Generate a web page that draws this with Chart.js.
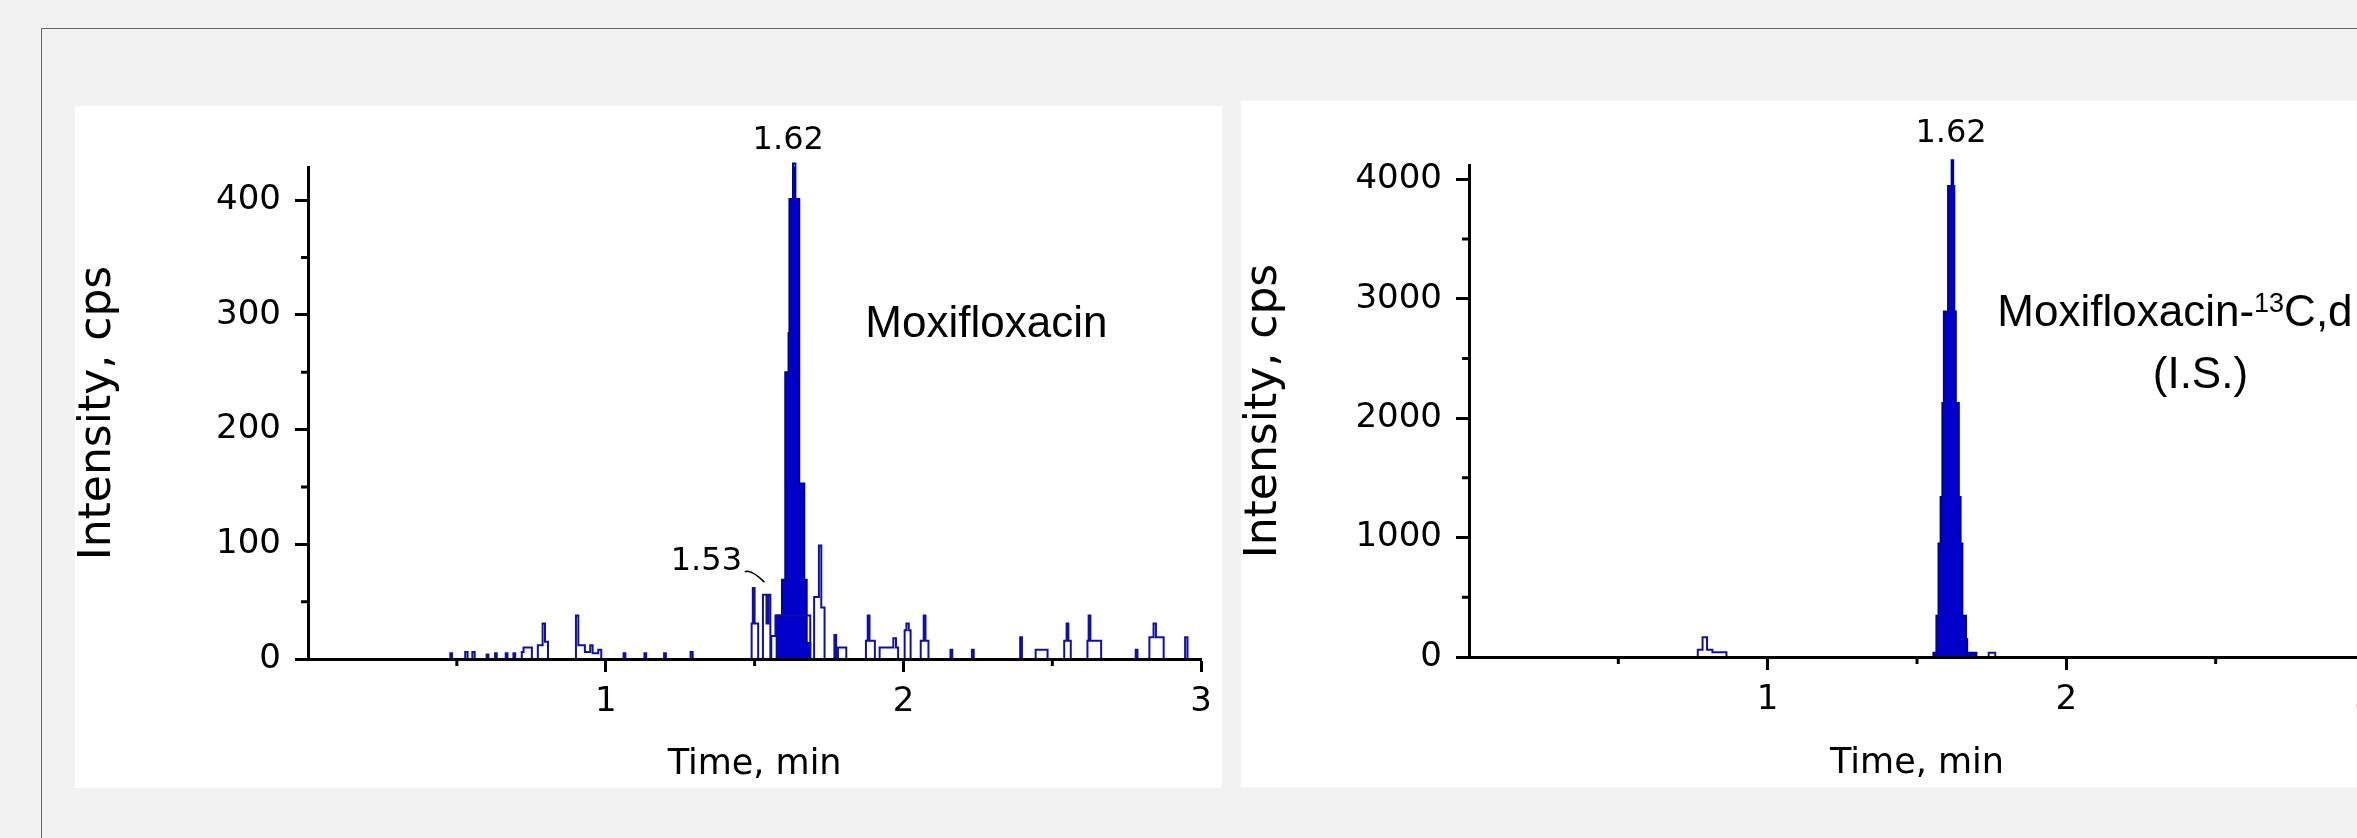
<!DOCTYPE html>
<html>
<head>
<meta charset="utf-8">
<script src="https://cdn.jsdelivr.net/npm/chart.js@4.4.1/dist/chart.umd.min.js"></script>
<style>
  html, body { margin: 0; padding: 0; width: 2357px; height: 838px; overflow: hidden; background: #f2f2f2; }
  #frame { position: absolute; left: 41px; top: 28px; width: 2400px; height: 900px;
           border-top: 1px solid #666; border-left: 1px solid #666; }
  .panel { position: absolute; background: #fff; }
  #p1 { left: 75px; top: 106px; width: 1147px; height: 682px; }
  #p2 { left: 1241px; top: 101px; width: 1147px; height: 686px; }
  canvas { display: block; }
</style>
</head>
<body>
<div id="frame"></div>
<div class="panel" id="p1"><canvas id="c1" width="1147" height="682"></canvas></div>
<div class="panel" id="p2"><canvas id="c2" width="1147" height="686"></canvas></div>

<script>
// axes
const xTicks = [1, 2, 3];
const xMinor = [0.5, 1.5, 2.5];
const moxiYTicks = [0, 100, 200, 300, 400];
const moxiYMinor = [50, 150, 250, 350];
const isYTicks = [0, 1000, 2000, 3000, 4000];
const isYMinor = [500, 1500, 2500, 3500];

// Moxifloxacin trace (time in min, intensity in cps), step after each point
const moxiNoiseT = [0, 0.478, 0.484, 0.528, 0.536, 0.552, 0.560, 0.600, 0.606, 0.628, 0.634, 0.664, 0.670,
  0.690, 0.696, 0.718, 0.724, 0.745, 0.752, 0.772, 0.788, 0.796, 0.806, 0.900, 0.908, 0.930, 0.948, 0.956,
  0.975, 0.985, 1.060, 1.066, 1.130, 1.136, 1.196, 1.202, 1.285, 1.292, 1.490, 1.494, 1.500, 1.512, 1.528,
  1.540, 1.546, 1.553, 1.556, 1.570, 1.687, 1.700, 1.716, 1.724, 1.735, 1.768, 1.774, 1.780, 1.808, 1.874,
  1.880, 1.886, 1.904, 1.920, 1.966, 1.975, 1.982, 2.004, 2.010, 2.018, 2.024, 2.058, 2.068, 2.074, 2.084,
  2.158, 2.164, 2.230, 2.236, 2.392, 2.398, 2.444, 2.484, 2.540, 2.548, 2.554, 2.562, 2.618, 2.622, 2.628,
  2.664, 2.780, 2.786, 2.826, 2.840, 2.848, 2.874, 2.946, 2.954, 3.0];
const moxiNoiseI = [0, 5, 0, 6, 0, 6, 0, 4, 0, 5, 0, 5, 0,
  5, 0, 6, 10, 10, 0, 12, 31, 15, 0, 38, 12, 6, 12, 5,
  8, 0, 5, 0, 5, 0, 5, 0, 6, 0, 31, 62, 31, 0, 56,
  31, 56, 0, 20, 38, 0, 54, 99, 45, 0, 21, 0, 10, 0, 16,
  38, 16, 0, 10, 18, 10, 0, 25, 31, 25, 0, 16, 38, 16, 0,
  8, 0, 8, 0, 19, 0, 8, 0, 16, 31, 16, 0, 16, 38, 16,
  0, 8, 0, 19, 31, 19, 0, 19, 0, 0];
const moxiPeakT = [1.570, 1.592, 1.603, 1.614, 1.617, 1.629, 1.637, 1.650, 1.667, 1.675, 1.687];
const moxiPeakI = [38, 69, 250, 284, 401, 432, 401, 153, 69, 14, 0];

// Moxifloxacin-13C,d4 (I.S.) trace
const isNoiseT = [0, 0.766, 0.782, 0.797, 0.815, 0.862, 1.740, 1.762, 3.0];
const isNoiseI = [0, 60, 166, 60, 40, 0, 36, 0, 0];
const isPeakT = [1.545, 1.555, 1.565, 1.572, 1.579, 1.585, 1.590, 1.604, 1.616, 1.621, 1.625, 1.630,
  1.640, 1.646, 1.652, 1.664, 1.668, 1.699];
const isPeakI = [0, 36, 345, 950, 1339, 2126, 2894, 3944, 4160, 3944, 2894, 2126,
  1339, 950, 345, 150, 36, 0];

const TRACE = '#1010a8';
const PEAK_FILL = '#0000c8';
const PEAK_EDGE = '#00009a';

const pts = (ts, vs) => ts.map((t, i) => ({ x: t, y: vs[i] }));

// minor ticks, peak labels and compound names
const marks = {
  id: 'marks',
  afterDraw(chart, args, o) {
    const { ctx, chartArea } = chart;
    const x = chart.scales.x, y = chart.scales.y;
    const px = v => x.getPixelForValue(v);
    const py = v => y.getPixelForValue(v);
    ctx.save();
    ctx.strokeStyle = '#000';
    ctx.lineWidth = 3;
    ctx.beginPath();
    o.xMinor.forEach(v => { ctx.moveTo(px(v), chartArea.bottom); ctx.lineTo(px(v), chartArea.bottom + 7); });
    o.yMinor.forEach(v => { ctx.moveTo(chartArea.left - 7, py(v)); ctx.lineTo(chartArea.left, py(v)); });
    ctx.stroke();

    ctx.fillStyle = '#000';
    ctx.font = '32px "DejaVu Sans"';
    ctx.textAlign = 'center';
    ctx.textBaseline = 'middle';
    o.peaks.forEach(p => ctx.fillText(p.text, px(p.t), py(p.i)));
    (o.callouts || []).forEach(c => {
      ctx.fillText(c.text, px(c.t), py(c.i));
      ctx.lineWidth = 1.5;
      ctx.beginPath();
      ctx.moveTo(px(c.lead[0][0]), py(c.lead[0][1]));
      ctx.quadraticCurveTo(px(c.lead[0][0]) + 6, py(c.lead[0][1]) - 3, px(c.lead[1][0]), py(c.lead[1][1]));
      ctx.stroke();
    });

    ctx.textAlign = 'left';
    ctx.textBaseline = 'alphabetic';
    o.names.forEach(n => {
      const widths = n.parts.map(p => {
        ctx.font = (p.sup ? 27 : 44) + 'px "Liberation Sans"';
        return ctx.measureText(p.text).width;
      });
      const total = widths.reduce((a, b) => a + b, 0);
      let cx = n.align === 'center' ? px(n.t) - total / 2 : px(n.t);
      const base = py(n.i);
      n.parts.forEach((p, k) => {
        ctx.font = (p.sup ? 27 : 44) + 'px "Liberation Sans"';
        ctx.fillText(p.text, cx, p.sup ? base - 14 : base);
        cx += widths[k];
      });
    });
    ctx.restore();
  }
};

function makeChart(id, o) {
  return new Chart(document.getElementById(id), {
    type: 'line',
    data: {
      datasets: [
        { data: pts(o.noiseT, o.noiseI), stepped: 'before', borderColor: TRACE, borderWidth: 2,
          pointRadius: 0, fill: false, clip: false },
        { data: pts(o.peakT, o.peakI), stepped: 'before', borderColor: PEAK_EDGE, backgroundColor: PEAK_FILL,
          borderWidth: 2, pointRadius: 0, fill: 'origin', clip: false }
      ]
    },
    options: {
      responsive: false,
      animation: false,
      events: [],
      layout: { padding: o.pad },
      plugins: { legend: { display: false }, tooltip: { enabled: false }, marks: o.marks },
      scales: {
        x: {
          type: 'linear', min: 0, max: 3,
          afterBuildTicks: s => { s.ticks = xTicks.map(v => ({ value: v })); },
          afterFit: s => { s.height = o.xAxisH; },
          grid: { drawOnChartArea: false, drawTicks: true, tickLength: 13, tickWidth: 3, tickColor: '#000', color: '#000' },
          border: { display: true, color: '#000', width: 3, z: 1 },
          ticks: { font: { family: 'DejaVu Sans', size: 34 }, color: '#000', padding: 10, maxRotation: 0,
                   callback: v => String(v) },
          title: { display: true, text: 'Time, min', color: '#000',
                   font: { family: 'DejaVu Sans', size: 35, lineHeight: 1.2 }, padding: { top: 0, bottom: 2 } }
        },
        y: {
          type: 'linear', min: 0, max: o.yMax,
          afterBuildTicks: s => { s.ticks = o.yTicks.map(v => ({ value: v })); },
          afterFit: s => { s.width = o.yAxisW; },
          grid: { drawOnChartArea: false, drawTicks: true, tickLength: 13, tickWidth: 3, tickColor: '#000', color: '#000' },
          border: { display: true, color: '#000', width: 3, z: 1 },
          ticks: { font: { family: 'DejaVu Sans', size: 34 }, color: '#000', padding: 14,
                   callback: v => String(v) },
          title: { display: true, text: 'Intensity, cps', color: '#000',
                   font: { family: 'DejaVu Sans', size: 44, lineHeight: 1.05 }, padding: 0 }
        }
      }
    },
    plugins: [marks]
  });
}

makeChart('c1', {
  noiseT: moxiNoiseT, noiseI: moxiNoiseI, peakT: moxiPeakT, peakI: moxiPeakI,
  yMax: 429, yTicks: moxiYTicks,
  pad: { left: 0, top: 61, right: 14, bottom: 0 }, yAxisW: 233, xAxisH: 129,
  marks: {
    xMinor: xMinor, yMinor: moxiYMinor,
    peaks: [{ text: '1.62', t: 1.613, i: 452 }],
    callouts: [{ text: '1.53', t: 1.338, i: 85, lead: [[1.467, 76], [1.533, 67]] }],
    names: [{ parts: [{ text: 'Moxifloxacin' }], t: 1.872, i: 281, align: 'left' }]
  }
});

makeChart('c2', {
  noiseT: isNoiseT, noiseI: isNoiseI, peakT: isPeakT, peakI: isPeakI,
  yMax: 4120, yTicks: isYTicks,
  pad: { left: 0, top: 64, right: 23, bottom: 0 }, yAxisW: 228, xAxisH: 130,
  marks: {
    xMinor: xMinor, yMinor: isYMinor,
    peaks: [{ text: '1.62', t: 1.614, i: 4384 }],
    names: [
      { parts: [{ text: 'Moxifloxacin-' }, { text: '13', sup: true }, { text: 'C,d' }], t: 1.769, i: 2770, align: 'left' },
      { parts: [{ text: '(I.S.)' }], t: 2.449, i: 2251, align: 'center' }
    ]
  }
});
</script>
</body>
</html>
